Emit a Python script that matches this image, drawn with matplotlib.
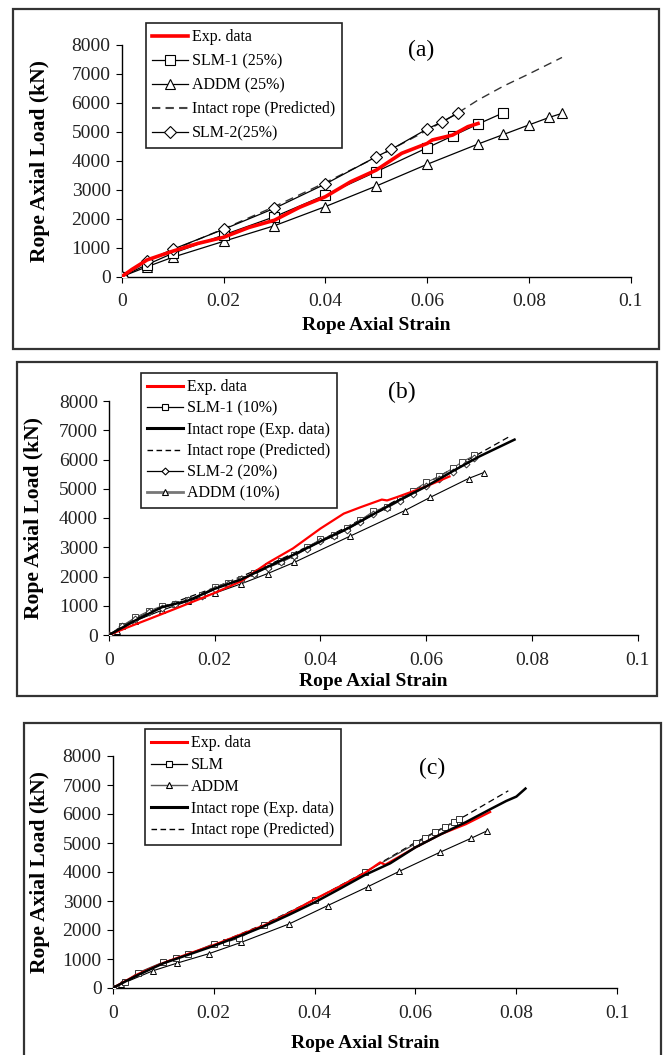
import matplotlib
matplotlib.use("Agg")
import matplotlib.pyplot as plt
from matplotlib.patches import Rectangle
from matplotlib.lines import Line2D

plt.rcParams['font.family'] = ['Liberation Serif', 'DejaVu Serif']

W, H = 665, 1055

# ---------------- Panel (a) data ----------------
a_exp_x = [0, 0.002, 0.005, 0.01, 0.015, 0.02, 0.025, 0.03, 0.035, 0.04, 0.045, 0.05, 0.055, 0.06, 0.061, 0.065, 0.068, 0.07]
a_exp_y = [0, 250, 580, 880, 1150, 1360, 1700, 1950, 2400, 2760, 3280, 3680, 4260, 4600, 4720, 4890, 5180, 5290]
a_slm1_x = [0, 0.005, 0.01, 0.02, 0.03, 0.04, 0.05, 0.06, 0.065, 0.07, 0.075]
a_slm1_y = [0, 420, 805, 1440, 2070, 2820, 3625, 4450, 4860, 5270, 5660]
a_addm_x = [0, 0.005, 0.01, 0.02, 0.03, 0.04, 0.05, 0.06, 0.07, 0.075, 0.08, 0.084, 0.0865]
a_addm_y = [0, 345, 670, 1220, 1760, 2420, 3130, 3880, 4580, 4910, 5240, 5500, 5640]
a_pred_x = [0, 0.005, 0.01, 0.02, 0.03, 0.04, 0.05, 0.06, 0.066, 0.07, 0.075, 0.08, 0.0865]
a_pred_y = [0, 520, 920, 1650, 2420, 3250, 4120, 5050, 5650, 6100, 6580, 7000, 7570]
a_slm2_x = [0, 0.005, 0.01, 0.02, 0.03, 0.04, 0.05, 0.053, 0.06, 0.063, 0.066]
a_slm2_y = [0, 550, 945, 1635, 2360, 3200, 4140, 4400, 5100, 5350, 5640]

# ---------------- Panel (b) data ----------------
b_exp_x = [0, 0.0035, 0.0075, 0.0123, 0.017, 0.02, 0.025, 0.03, 0.0348, 0.04, 0.0444, 0.0476, 0.0516, 0.0526, 0.0544, 0.0596, 0.0644]
b_exp_y = [0, 260, 540, 880, 1220, 1440, 1840, 2460, 2960, 3640, 4150, 4370, 4630, 4600, 4710, 5050, 5420]
b_slm1_x = [0, 0.0025, 0.005, 0.0075, 0.01, 0.0125, 0.015, 0.0175, 0.02, 0.0225, 0.025, 0.0275, 0.03, 0.0325, 0.035, 0.0375,
            0.04, 0.0425, 0.045, 0.0475, 0.05, 0.0525, 0.055, 0.0575, 0.06, 0.0625, 0.065, 0.0668, 0.0691]
b_slm1_y = [0, 320, 600, 820, 990, 1060, 1180, 1380, 1650, 1780, 1920, 2120, 2370, 2520, 2740, 3000,
            3270, 3420, 3660, 3920, 4230, 4380, 4640, 4930, 5220, 5420, 5700, 5920, 6140]
b_intact_x = [0, 0.005, 0.01, 0.015, 0.02, 0.025, 0.03, 0.035, 0.04, 0.045, 0.05, 0.055, 0.06, 0.065, 0.07, 0.0767]
b_intact_y = [0, 500, 950, 1180, 1580, 1900, 2330, 2750, 3200, 3630, 4130, 4620, 5080, 5600, 6100, 6680]
b_pred_x = [0, 0.005, 0.01, 0.02, 0.03, 0.04, 0.05, 0.06, 0.07, 0.0755]
b_pred_y = [0, 520, 960, 1620, 2380, 3230, 4170, 5180, 6200, 6760]
b_slm2_x = [0, 0.0025, 0.005, 0.0075, 0.01, 0.0125, 0.015, 0.0175, 0.02, 0.0225, 0.025, 0.0275, 0.03, 0.0325, 0.035, 0.0375,
            0.04, 0.0425, 0.045, 0.0475, 0.05, 0.0525, 0.055, 0.0575, 0.06, 0.0625, 0.065, 0.0675, 0.069]
b_slm2_y = [0, 300, 560, 780, 920, 1050, 1180, 1350, 1560, 1740, 1900, 2080, 2300, 2480, 2700, 2950,
            3200, 3380, 3600, 3850, 4120, 4330, 4580, 4830, 5080, 5320, 5580, 5850, 6050]
b_addm_x = [0, 0.0015, 0.005, 0.01, 0.015, 0.02, 0.025, 0.03, 0.035, 0.0456, 0.0559, 0.0608, 0.068, 0.0709]
b_addm_y = [0, 125, 485, 845, 1160, 1430, 1750, 2100, 2480, 3380, 4250, 4710, 5350, 5555]

# ---------------- Panel (c) data ----------------
c_exp_x = [0, 0.005, 0.01, 0.015, 0.02, 0.025, 0.03, 0.035, 0.04, 0.045, 0.05, 0.053, 0.054, 0.055, 0.06, 0.065, 0.07, 0.0748]
c_exp_y = [0, 480, 860, 1180, 1480, 1820, 2160, 2580, 3060, 3500, 3970, 4330, 4250, 4350, 4850, 5300, 5650, 6070]
c_slm_x = [0, 0.0025, 0.005, 0.01, 0.0125, 0.015, 0.02, 0.0225, 0.025, 0.03, 0.04, 0.05, 0.0601, 0.0618, 0.0639, 0.0658, 0.0677, 0.0687]
c_slm_y = [0, 220, 527, 894, 1020, 1170, 1524, 1580, 1720, 2178, 3049, 3988, 4986, 5158, 5364, 5536, 5730, 5822]
c_addm_x = [0, 0.0017, 0.008, 0.0128, 0.019, 0.0254, 0.035, 0.0426, 0.0506, 0.0568, 0.0648, 0.0711, 0.0742]
c_addm_y = [0, 138, 596, 860, 1180, 1570, 2212, 2842, 3496, 4023, 4676, 5169, 5421]
c_intact_x = [0, 0.005, 0.01, 0.015, 0.02, 0.025, 0.03, 0.035, 0.04, 0.045, 0.05, 0.055, 0.06, 0.065, 0.07, 0.075, 0.078, 0.08, 0.0818]
c_intact_y = [0, 450, 850, 1150, 1450, 1780, 2130, 2530, 2950, 3420, 3900, 4300, 4850, 5300, 5720, 6180, 6450, 6600, 6877]
c_pred_x = [0, 0.01, 0.02, 0.03, 0.04, 0.05, 0.06, 0.07, 0.0784]
c_pred_y = [0, 870, 1480, 2200, 3050, 4000, 5020, 5950, 6800]

x_ticks = [0, 0.02, 0.04, 0.06, 0.08, 0.1]
x_ticklabels = ["0", "0.02", "0.04", "0.06", "0.08", "0.1"]
y_ticks = [0, 1000, 2000, 3000, 4000, 5000, 6000, 7000, 8000]
x_label = "Rope Axial Strain"
y_label = "Rope Axial Load (kN)"

fig = plt.figure(figsize=(W / 100, H / 100), dpi=100)


def px_rect(x0, y0, x1, y1):
    return [x0 / W, 1 - y1 / H, (x1 - x0) / W, (y1 - y0) / H]


def frame(x0, y0, x1, y1):
    fig.patches.append(Rectangle((x0 / W, 1 - y1 / H), (x1 - x0) / W, (y1 - y0) / H,
                                 transform=fig.transFigure, fill=False, edgecolor='#333333', lw=1.6))


def setup_axes(rect, ylab_x, xlab_y):
    ax = fig.add_axes(px_rect(*rect))
    ax.set_xlim(0, 0.1)
    ax.set_ylim(0, 8000)
    ax.set_xticks(x_ticks)
    ax.set_xticklabels(x_ticklabels)
    ax.set_yticks(y_ticks)
    ax.spines['top'].set_visible(False)
    ax.spines['right'].set_visible(False)
    for s in ('left', 'bottom'):
        ax.spines[s].set_linewidth(1.0)
    ax.tick_params(direction='out', length=4, width=0.8, labelsize=14, pad=4)
    ax.tick_params(axis='x', pad=8)
    ax.set_xlabel(x_label, fontsize=14, fontweight='bold')
    ax.set_ylabel(y_label, fontsize=15.5, fontweight='bold')
    x0, y0, x1, y1 = rect
    ax.yaxis.set_label_coords((ylab_x - x0) / (x1 - x0), 0.5)
    ax.xaxis.set_label_coords(0.5, (y1 - xlab_y) / (y1 - y0))
    ax.xaxis.label.set_va('center')
    ax.yaxis.label.set_va('center')
    for t in ax.get_xticklabels() + ax.get_yticklabels():
        t.set_color('#222222')
    return ax


def legend_box(ax, handles, labels, bbox_px, spacing):
    x0, y0 = bbox_px
    leg = fig.legend(handles, labels, loc='upper left', bbox_to_anchor=(x0 / W, 1 - y0 / H),
                     bbox_transform=fig.transFigure, fontsize=11.5, frameon=True, fancybox=False,
                     framealpha=1, edgecolor='#222222', handlelength=2.2, handletextpad=0.3,
                     labelspacing=spacing, borderpad=0.4, borderaxespad=0)
    leg.get_frame().set_linewidth(1.2)
    return leg


# ---------------- Panel (a) ----------------
frame(12.7, 9.3, 659.3, 349.3)
ax = setup_axes((121.7, 45, 630.7, 276.7), 40, 326)
ms_a = 6.5
ax.plot(a_pred_x, a_pred_y, color='#333333', lw=1.0, ls=(0, (6, 4)), zorder=2)
ax.plot(a_addm_x, a_addm_y, color='black', lw=0.9, marker='^', ms=ms_a, mfc='white', mec='black', mew=0.8, zorder=3)
ax.plot(a_slm1_x, a_slm1_y, color='black', lw=0.9, marker='s', ms=ms_a, mfc='white', mec='black', mew=0.8, zorder=3)
ax.plot(a_slm2_x, a_slm2_y, color='black', lw=0.9, marker='D', ms=ms_a - 0.5, mfc='white', mec='black', mew=0.8, zorder=3)
ax.plot(a_exp_x, a_exp_y, color='#ff0000', lw=2.6, zorder=4)
h = [Line2D([], [], color='#ff0000', lw=2.6),
     Line2D([], [], color='black', lw=0.9, marker='s', ms=ms_a, mfc='white', mec='black', mew=0.8),
     Line2D([], [], color='black', lw=0.9, marker='^', ms=ms_a, mfc='white', mec='black', mew=0.8),
     Line2D([], [], color='#444444', lw=1.5, ls=(0, (4, 2.5))),
     Line2D([], [], color='black', lw=0.9, marker='D', ms=ms_a - 0.5, mfc='white', mec='black', mew=0.8)]
legend_box(ax, h, ["Exp. data", "SLM-1 (25%)", "ADDM (25%)", "Intact rope (Predicted)", "SLM-2(25%)"], (146, 23), 0.5)
fig.text(421 / W, 1 - 50 / H, "(a)", fontsize=17, ha='center', va='center')

# ---------------- Panel (b) ----------------
frame(17.3, 361.7, 656.7, 696)
ax = setup_axes((109, 401, 637.7, 635), 34, 682)
ms_b = 4
ax.plot(b_pred_x, b_pred_y, color='black', lw=0.9, ls=(0, (5, 3)), zorder=2)
ax.plot(b_addm_x, b_addm_y, color='black', lw=0.8, marker='^', ms=ms_b + 1, mfc='white', mec='black', mew=0.7, zorder=3)
ax.plot(b_slm1_x, b_slm1_y, color='#555555', lw=0.8, marker='s', ms=ms_b, mfc='white', mec='#444444', mew=0.7, zorder=3)
ax.plot(b_slm2_x, b_slm2_y, color='#333333', lw=0.8, marker='D', ms=ms_b - 0.5, mfc='white', mec='#333333', mew=0.7, zorder=3)
ax.plot(b_exp_x, b_exp_y, color='#ff0000', lw=1.6, zorder=4)
ax.plot(b_intact_x, b_intact_y, color='black', lw=1.8, zorder=5)
h = [Line2D([], [], color='#ff0000', lw=2.2),
     Line2D([], [], color='black', lw=0.9, marker='s', ms=ms_b, mfc='white', mec='black', mew=0.8),
     Line2D([], [], color='black', lw=2.2),
     Line2D([], [], color='black', lw=1.0, ls=(0, (4, 2.5))),
     Line2D([], [], color='black', lw=0.9, marker='D', ms=ms_b - 0.5, mfc='white', mec='black', mew=0.8),
     Line2D([], [], color='#777777', lw=2.0, marker='^', ms=ms_b + 1, mfc='white', mec='black', mew=0.8)]
legend_box(ax, h, ["Exp. data", "SLM-1 (10%)", "Intact rope (Exp. data)", "Intact rope (Predicted)",
                   "SLM-2 (20%)", "ADDM (10%)"], (141, 373), 0.33)
fig.text(402 / W, 1 - 392 / H, "(b)", fontsize=17, ha='center', va='center')

# ---------------- Panel (c) ----------------
frame(24, 723.3, 661, 1062)
ax = setup_axes((112.7, 756, 617.3, 988), 40, 1043)
ms_c = 4.5
ax.plot(c_pred_x, c_pred_y, color='black', lw=0.9, ls=(0, (5, 3)), zorder=2)
ax.plot(c_addm_x, c_addm_y, color='black', lw=0.8, marker='^', ms=ms_c + 0.5, mfc='white', mec='black', mew=0.7, zorder=3)
ax.plot(c_slm_x, c_slm_y, color='#333333', lw=0.8, marker='s', ms=ms_c, mfc='white', mec='#333333', mew=0.7, zorder=3)
ax.plot(c_exp_x, c_exp_y, color='#ff0000', lw=1.6, zorder=4)
ax.plot(c_intact_x, c_intact_y, color='black', lw=1.8, zorder=5)
h = [Line2D([], [], color='#ff0000', lw=2.2),
     Line2D([], [], color='black', lw=0.9, marker='s', ms=ms_c, mfc='white', mec='black', mew=0.8),
     Line2D([], [], color='#555555', lw=1.0, marker='^', ms=ms_c + 0.5, mfc='white', mec='black', mew=0.8),
     Line2D([], [], color='black', lw=2.2),
     Line2D([], [], color='black', lw=1.0, ls=(0, (4, 2.5)))]
legend_box(ax, h, ["Exp. data", "SLM", "ADDM", "Intact rope (Exp. data)", "Intact rope (Predicted)"], (145, 729), 0.36)
fig.text(432 / W, 1 - 768 / H, "(c)", fontsize=17, ha='center', va='center')

fig.savefig("out.png", dpi=100)
